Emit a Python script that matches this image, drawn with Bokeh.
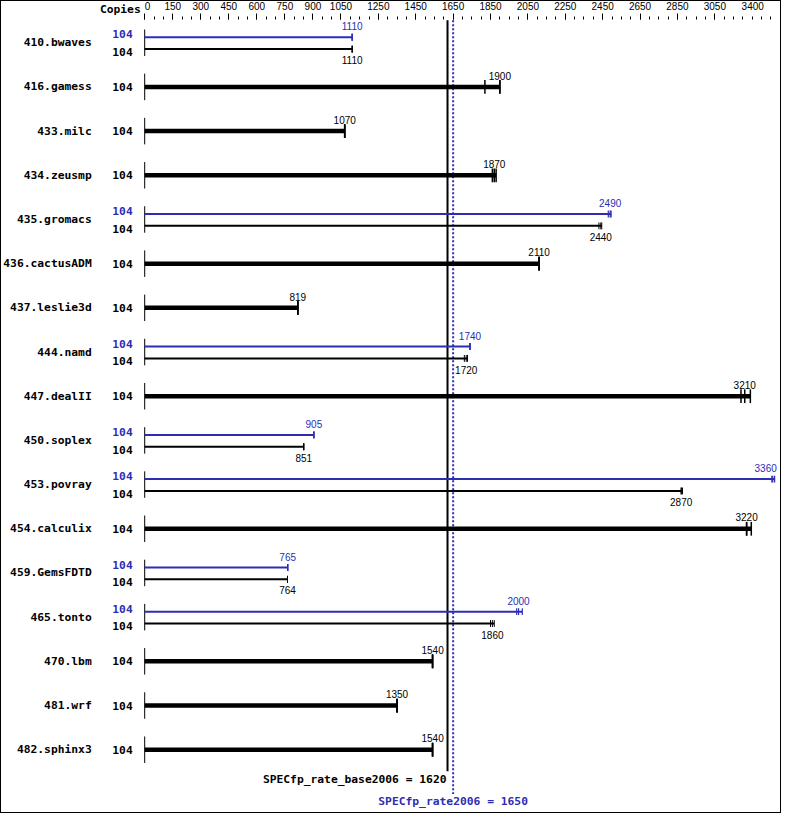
from bokeh.plotting import figure
from bokeh.models import Range1d, LinearAxis, FixedTicker, ColumnDataSource
from bokeh.core.properties import value
from bokeh.embed import file_html
from bokeh.resources import INLINE

# ---------------- data ----------------
benchmarks = ["410.bwaves", "416.gamess", "433.milc", "434.zeusmp", "435.gromacs",
              "436.cactusADM", "437.leslie3d", "444.namd", "447.dealII", "450.soplex",
              "453.povray", "454.calculix", "459.GemsFDTD", "465.tonto", "470.lbm",
              "481.wrf", "482.sphinx3"]
base_copies = [104, 104, 104, 104, 104, 104, 104, 104, 104, 104, 104, 104, 104, 104, 104, 104, 104]
peak_copies = [104, None, None, None, 104, None, None, 104, None, 104, 104, None, 104, 104, None, None, None]
base_ratio = [1110, 1900, 1070, 1870, 2440, 2110, 819, 1720, 3210, 851, 2870, 3220, 764, 1860, 1540, 1350, 1540]
peak_ratio = [1110, None, None, None, 2490, None, None, 1740, None, 905, 3360, None, 765, 2000, None, None, None]
base_runs = [[1110, 1110, 1110], [1820, 1900, 1900], [1070, 1070, 1070], [1860, 1870, 1880],
             [2430, 2440, 2445], [2110, 2110, 2110], [819, 819, 819], [1710, 1720, 1727],
             [3190, 3210, 3240], [851, 851, 851], [2870, 2870, 2877], [3220, 3220, 3245],
             [764, 764, 764], [1850, 1860, 1870], [1540, 1540, 1540], [1350, 1350, 1350],
             [1540, 1540, 1540]]
peak_runs = [[1110, 1110, 1110], None, None, None, [2480, 2490, 2495], None, None,
             [1740, 1740, 1740], None, [905, 905, 905], [3355, 3360, 3370], None,
             [765, 765, 765], [1990, 2000, 2020], None, None, None]
axis_ticks = [0, 150, 300, 450, 600, 750, 900, 1050, 1250, 1450, 1650, 1850, 2050,
              2250, 2450, 2650, 2850, 3050, 3400]
minor_step = 50
axis_max = 3400
base_overall = 1620
peak_overall = 1650
base_metric = "SPECfp_rate_base2006"
peak_metric = "SPECfp_rate2006"
copies_header = "Copies"

# ---------------- style / layout ----------------
BLUE = "#2d2db4"
BLACK = "#000000"
MONO = value("DejaVu Sans Mono")
SANS = value("Liberation Sans")
BOLD_SIZE = "11.3px"
NUM_SIZE = "10px"

X_START, X_END = -766, 3412
ROW = 45.0  # reference pixel pitch of rows
def r(px):
    return px / ROW

Y_TOP = r(1 - 43)       # canvas top
Y_BOTTOM = r(829 - 43)  # canvas bottom
Y_AXIS = r(19.5 - 43)   # axis baseline
Y_FRAME = r(20 - 43)    # top of drawing area

p = figure(width=781, height=813, output_backend="svg", toolbar_location=None,
           x_range=Range1d(X_START, X_END), y_range=Range1d(Y_BOTTOM, Y_TOP),
           x_axis_location=None, y_axis_location=None,
           min_border_left=0, min_border_right=0, min_border_bottom=0, min_border_top=0)
p.grid.visible = False
p.outline_line_color = None
p.background_fill_color = "white"
p.border_fill_color = "white"
p.styles = {"border": "1px solid black"}

nb = "\u00a0"
ax = LinearAxis(ticker=FixedTicker(ticks=axis_ticks,
                                   minor_ticks=list(range(0, axis_max + 1, minor_step))),
                fixed_location=Y_AXIS)
ax.axis_line_color = None
ax.major_tick_out = 6
ax.major_tick_in = 0
ax.minor_tick_out = 3
ax.minor_tick_in = 0
ax.major_tick_line_color = BLACK
ax.minor_tick_line_color = BLACK
ax.major_label_text_font = "Liberation Sans"
ax.major_label_text_font_size = NUM_SIZE
ax.major_label_text_color = BLACK
ax.major_label_standoff = 2
ax.major_label_overrides = {axis_max: str(axis_max) + nb * 6, 0: nb * 2 + "0"}
p.add_layout(ax, "above")

# collections
row_seg = dict(x0=[], x1=[], y0=[], y1=[])
thick = dict(x0=[], x1=[], y=[])
thin_b = dict(x0=[], x1=[], y=[])
thin_p = dict(x0=[], x1=[], y=[])
tick_thick = dict(x=[], y0=[], y1=[])
tick_b = dict(x=[], y0=[], y1=[])
tick_p = dict(x=[], y0=[], y1=[])
lab_b = dict(x=[], y=[], t=[])
lab_p = dict(x=[], y=[], t=[])
lab_p_edge = dict(x=[], y=[], t=[])
names = dict(x=[], y=[], t=[])
cop_b = dict(x=[], y=[], t=[])
cop_p = dict(x=[], y=[], t=[])

EDGE = 60  # value units a centred label needs on its right

for i, name in enumerate(benchmarks):
    row_seg["x0"].append(0); row_seg["x1"].append(0)
    row_seg["y0"].append(i - r(13.5)); row_seg["y1"].append(i + r(13.5))
    names["x"].append(0); names["y"].append(i); names["t"].append(name)
    if peak_ratio[i] is None:
        thick["x0"].append(0); thick["x1"].append(max(base_runs[i])); thick["y"].append(i)
        for v in base_runs[i]:
            tick_thick["x"].append(v); tick_thick["y0"].append(i - r(7)); tick_thick["y1"].append(i + r(7))
        lab_b["x"].append(base_ratio[i]); lab_b["y"].append(i - r(11.5)); lab_b["t"].append(str(base_ratio[i]))
        cop_b["x"].append(0); cop_b["y"].append(i); cop_b["t"].append(str(base_copies[i]))
    else:
        yp = i - r(5.6)
        yb = i + r(6.5)
        thin_p["x0"].append(0); thin_p["x1"].append(max(peak_runs[i])); thin_p["y"].append(yp)
        thin_b["x0"].append(0); thin_b["x1"].append(max(base_runs[i])); thin_b["y"].append(yb)
        for v in peak_runs[i]:
            tick_p["x"].append(v); tick_p["y0"].append(yp - r(3.5)); tick_p["y1"].append(yp + r(3.5))
        for v in base_runs[i]:
            tick_b["x"].append(v); tick_b["y0"].append(yb - r(3.5)); tick_b["y1"].append(yb + r(3.5))
        target = lab_p_edge if peak_ratio[i] + EDGE > X_END else lab_p
        target["x"].append(peak_ratio[i]); target["y"].append(yp - r(11)); target["t"].append(str(peak_ratio[i]))
        lab_b["x"].append(base_ratio[i]); lab_b["y"].append(yb + r(11.3)); lab_b["t"].append(str(base_ratio[i]))
        cop_p["x"].append(0); cop_p["y"].append(i - r(8.6)); cop_p["t"].append(str(peak_copies[i]))
        cop_b["x"].append(0); cop_b["y"].append(i + r(9.4)); cop_b["t"].append(str(base_copies[i]))

p.segment(x0="x0", x1="x1", y0="y0", y1="y1", source=ColumnDataSource(row_seg),
          line_color=BLACK, line_width=1)

# overall reference lines
n = len(benchmarks)
p.segment(x0=[base_overall], x1=[base_overall], y0=[Y_FRAME], y1=[n - 1 + r(22)],
          line_color=BLACK, line_width=2)
p.segment(x0=[peak_overall], x1=[peak_overall], y0=[Y_FRAME], y1=[n - 1 + r(45)],
          line_color=BLUE, line_width=2, line_dash="2 2")

p.segment(x0="x0", x1="x1", y0="y", y1="y", source=ColumnDataSource(thick),
          line_color=BLACK, line_width=4.5)
p.segment(x0="x0", x1="x1", y0="y", y1="y", source=ColumnDataSource(thin_b),
          line_color=BLACK, line_width=2)
p.segment(x0="x0", x1="x1", y0="y", y1="y", source=ColumnDataSource(thin_p),
          line_color=BLUE, line_width=2)
p.segment(x0="x", x1="x", y0="y0", y1="y1", source=ColumnDataSource(tick_thick),
          line_color=BLACK, line_width=1.5)
p.segment(x0="x", x1="x", y0="y0", y1="y1", source=ColumnDataSource(tick_b),
          line_color=BLACK, line_width=1)
p.segment(x0="x", x1="x", y0="y0", y1="y1", source=ColumnDataSource(tick_p),
          line_color=BLUE, line_width=1.2)

p.text(x="x", y="y", text="t", source=ColumnDataSource(lab_b), text_font=SANS,
       text_font_size=NUM_SIZE, text_color=BLACK, text_align="center", text_baseline="middle")
p.text(x="x", y="y", text="t", source=ColumnDataSource(lab_p), text_font=SANS,
       text_font_size=NUM_SIZE, text_color=BLUE, text_align="center", text_baseline="middle")
p.text(x="x", y="y", text="t", source=ColumnDataSource(lab_p_edge), text_font=SANS,
       text_font_size=NUM_SIZE, text_color=BLUE, text_align="right", text_baseline="middle",
       x_offset=4)
p.text(x="x", y="y", text="t", source=ColumnDataSource(names), text_font=MONO,
       text_font_style="bold", text_font_size=BOLD_SIZE, text_color=BLACK,
       text_align="right", text_baseline="middle", x_offset=-53)
p.text(x="x", y="y", text="t", source=ColumnDataSource(cop_b), text_font=MONO,
       text_font_style="bold", text_font_size=BOLD_SIZE, text_color=BLACK,
       text_align="right", text_baseline="middle", x_offset=-12)
p.text(x="x", y="y", text="t", source=ColumnDataSource(cop_p), text_font=MONO,
       text_font_style="bold", text_font_size=BOLD_SIZE, text_color=BLUE,
       text_align="right", text_baseline="middle", x_offset=-12)

p.text(x=[base_overall], y=[n - 1 + r(30)], text=[f"{base_metric} = {base_overall}"],
       text_font=MONO, text_font_style="bold", text_font_size=BOLD_SIZE, text_color=BLACK,
       text_align="right", text_baseline="middle", x_offset=-1)
p.text(x=[peak_overall], y=[n - 1 + r(53)], text=[f"{peak_metric} = {peak_overall}"],
       text_font=MONO, text_font_style="bold", text_font_size=BOLD_SIZE, text_color=BLUE,
       text_align="center", text_baseline="middle")

p.text(x=[0], y=[r(9 - 43)], text=[copies_header], text_font=MONO, text_font_style="bold",
       text_font_size=BOLD_SIZE, text_color=BLACK, text_align="right", text_baseline="middle",
       x_offset=-4)

open("out.html", "w").write(file_html(p, INLINE))
